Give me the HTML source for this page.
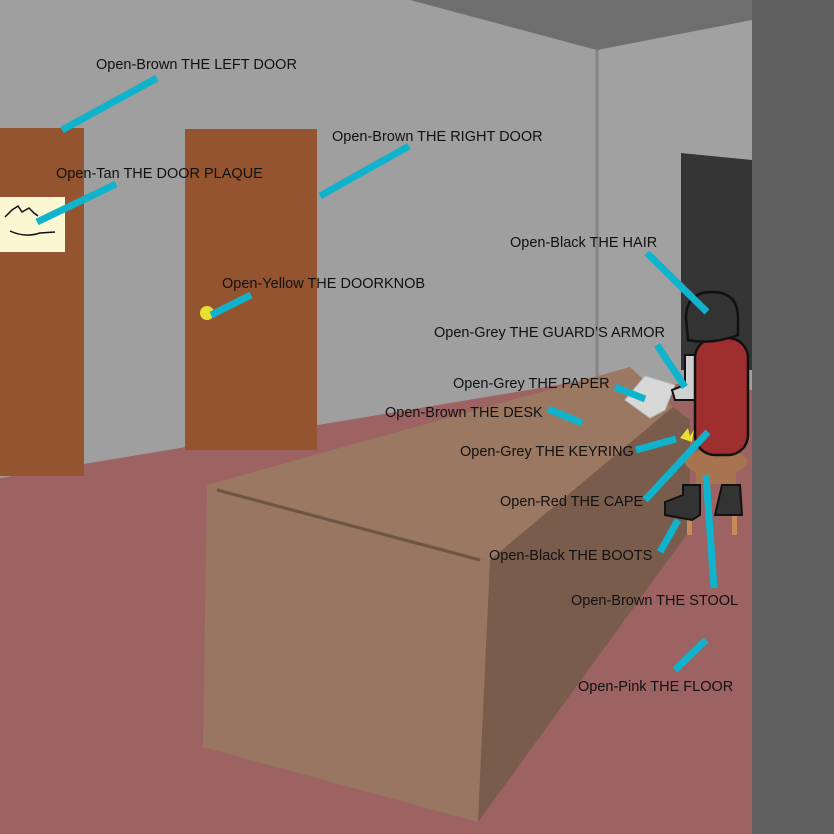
<!DOCTYPE html>
<html><head><meta charset="utf-8"><style>
html,body{margin:0;padding:0;background:#9e9e9e}
svg{display:block}
text{font-family:"Liberation Sans",sans-serif;font-size:14.5px;fill:#111}
</style></head><body>
<svg width="834" height="834" viewBox="0 0 834 834" xmlns="http://www.w3.org/2000/svg">
<rect width="834" height="834" fill="#9f9f9f"/>
<polygon points="597,50 752,20 752,400 597,400" fill="#a1a1a1"/>
<polygon points="410,0 597,50 752,20 752,0" fill="#6e6e6e"/>
<line x1="597" y1="50" x2="597" y2="390" stroke="#858585" stroke-width="3"/>
<rect x="752" y="0" width="82" height="834" fill="#5f5f5f"/>
<polygon points="681,153 752,160 752,370 681,370" fill="#353535"/>
<polygon points="0,478 600,378 752,390 752,834 0,834" fill="#9d6363"/>
<rect x="0" y="128" width="84" height="348" fill="#94542f"/>
<rect x="0" y="197" width="65" height="55" fill="#fbf7d2"/>
<path d="M5,217 L12,210 L18,206 L22,212 L29,208 L34,213 L38,216" stroke="#111" stroke-width="1.5" fill="none"/>
<path d="M10,231 Q25,238 40,233 L55,232" stroke="#111" stroke-width="1.5" fill="none"/>
<rect x="185" y="129" width="132" height="321" fill="#94542f"/>
<circle cx="207" cy="313" r="7" fill="#e8e030"/>
<!-- desk -->
<polygon points="207,485 630,367 673,407 490,560" fill="#9b7861"/>
<polygon points="207,485 490,560 478,822 203,747" fill="#987662"/>
<polygon points="490,560 673,407 690,420 690,530 478,822" fill="#795c4b"/>
<line x1="217" y1="490" x2="480" y2="560" stroke="#6e5443" stroke-width="3"/>
<!-- paper -->
<polygon points="625,400 645,376 675,385 665,410 650,418" fill="#d8d8d8" stroke="#bbb"/>
<!-- guard -->
<rect x="687" y="485" width="5" height="50" fill="#c88a5a"/>
<rect x="732" y="485" width="5" height="50" fill="#c88a5a"/>
<path d="M683,485 L700,485 L700,515 L692,520 L665,515 L665,502 L683,495 Z" fill="#333" stroke="#111" stroke-width="2"/>
<path d="M722,485 L740,485 L742,515 L715,515 Z" fill="#333" stroke="#111" stroke-width="2"/>
<ellipse cx="716" cy="462" rx="31" ry="13" fill="#a87450"/>
<rect x="696" y="462" width="40" height="22" fill="#a87450"/>
<path d="M685,355 L700,355 L700,400 L675,400 L672,390 L685,385 Z" fill="#d0d0d0" stroke="#111" stroke-width="2"/>
<rect x="695" y="338" width="53" height="117" rx="20" fill="#9f2f2f" stroke="#111" stroke-width="2.5"/>
<path d="M686,318 Q686,292 712,292 Q738,292 738,318 L738,335 Q712,345 688,340 Z" fill="#333" stroke="#111" stroke-width="2.5"/>
<path d="M680,438 l8,-10 l2,8 l4,-6 l-2,12 Z" fill="#e8e030"/>
<!-- connectors -->
<g stroke="#0fb3cc" stroke-width="7" stroke-linecap="butt">
<line x1="157" y1="78" x2="62" y2="130"/>
<line x1="409" y1="146" x2="320" y2="196"/>
<line x1="116" y1="184" x2="37" y2="222"/>
<line x1="251" y1="295" x2="211" y2="315"/>
<line x1="647" y1="253" x2="707" y2="312"/>
<line x1="657" y1="345" x2="685" y2="387"/>
<line x1="615" y1="387" x2="645" y2="399"/>
<line x1="548" y1="409" x2="582" y2="423"/>
<line x1="636" y1="450" x2="676" y2="439"/>
<line x1="645" y1="500" x2="708" y2="432"/>
<line x1="660" y1="552" x2="678" y2="520"/>
<line x1="706" y1="475" x2="714" y2="588"/>
<line x1="675" y1="670" x2="706" y2="640"/>
</g>
<text x="96" y="69">Open-Brown THE LEFT DOOR</text>
<text x="332" y="141">Open-Brown THE RIGHT DOOR</text>
<text x="56" y="178">Open-Tan THE DOOR PLAQUE</text>
<text x="222" y="288">Open-Yellow THE DOORKNOB</text>
<text x="510" y="247">Open-Black THE HAIR</text>
<text x="434" y="337">Open-Grey THE GUARD’S ARMOR</text>
<text x="453" y="388">Open-Grey THE PAPER</text>
<text x="385" y="417">Open-Brown THE DESK</text>
<text x="460" y="456">Open-Grey THE KEYRING</text>
<text x="500" y="506">Open-Red THE CAPE</text>
<text x="489" y="560">Open-Black THE BOOTS</text>
<text x="571" y="605">Open-Brown THE STOOL</text>
<text x="578" y="691">Open-Pink THE FLOOR</text>
</svg>
</body></html>
